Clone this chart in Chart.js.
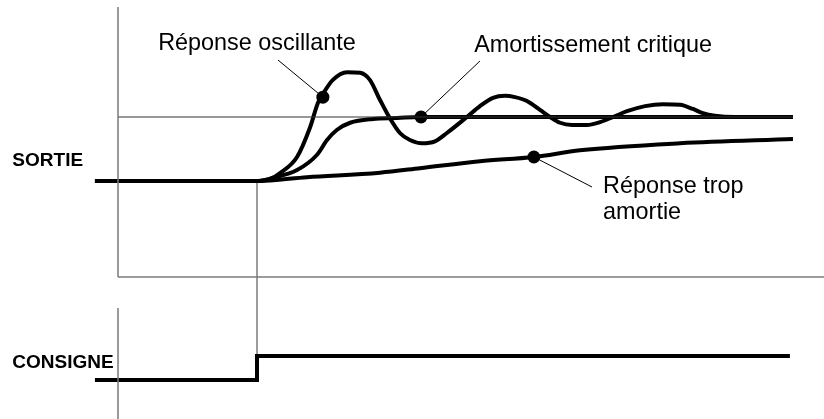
<!DOCTYPE html>
<html>
<head>
<meta charset="utf-8">
<script src="https://cdn.jsdelivr.net/npm/chart.js@4"></script>
<style>
  html, body { margin: 0; padding: 0; background: #fff; }
  #wrap { width: 824px; height: 419px; position: relative; }
</style>
</head>
<body>
<div id="wrap"><canvas id="c"></canvas></div>
<script>
// time (t = 0 at the setpoint step), output normalised so the setpoint = 1
const tBefore = [-5.83, 0];
const oscT = [0, 0.47, 0.83, 1.44, 1.91, 2.19, 2.37, 2.73, 3.24, 3.71, 4.06, 4.42, 4.78, 5.14, 5.5, 5.94, 6.4, 6.83, 7.55, 8.02, 8.49, 8.92, 9.28, 9.71, 10.18, 10.54, 10.9, 11.33, 11.87, 12.34, 12.81, 13.31, 13.96, 14.6, 15.22, 15.68, 16.04, 16.47, 17.19, 19.28];
const oscV = [0, 0.03, 0.125, 0.375, 0.84, 1.22, 1.36, 1.58, 1.70, 1.69, 1.58, 1.27, 0.98, 0.75, 0.64, 0.59, 0.62, 0.75, 1.0, 1.17, 1.30, 1.33, 1.31, 1.25, 1.11, 1.0, 0.91, 0.875, 0.875, 0.92, 1.0, 1.09, 1.17, 1.20, 1.19, 1.125, 1.06, 1.02, 1.0, 1.0];
const critT = [0, 0.58, 1.44, 2.16, 2.52, 2.88, 3.35, 4.17, 5.04, 5.86, 19.28];
const critV = [0, 0.05, 0.17, 0.41, 0.64, 0.80, 0.91, 0.97, 0.985, 1.0, 1.0];
const overT = [0, 1.8, 4.42, 5.86, 8.02, 9.96, 11.62, 15.22, 19.28];
const overV = [0, 0.06, 0.13, 0.2, 0.31, 0.375, 0.48, 0.59, 0.656];
const consT = [-5.83, 0, 0, 19.17];
const consV = [0, 0, 1, 1];
const setpoint = 1;

// callouts: dot on the curve, end of the leader line, text
const calloutDots = [[2.37, 1.31], [5.9, 1.0], [9.96, 0.375]];
const calloutEnds = [[0.755, 1.89], [8.02, 1.875], [12.05, -0.094]];
const calloutTexts = [
    { lines: ['Réponse oscillante'], t: 0, v: 2.05, align: 'center' },
    { lines: ['Amortissement critique'], t: 12.09, v: 2.02, align: 'center' },
    { lines: ['Réponse trop', 'amortie'], t: 12.45, v: -0.19, align: 'left' }
];

const pts = (xs, ys) => xs.map((x, i) => ({ x: x, y: ys[i] }));
const withPre = (xs, ys) => pts(tBefore.concat(xs), [0, 0].concat(ys));

const thick = { borderColor: '#000', borderWidth: 4, pointRadius: 0, fill: false, borderCapStyle: 'butt', borderJoinStyle: 'round' };
const axisLine = { borderColor: '#7a7a7a', borderWidth: 1.5, pointRadius: 0, fill: false, tension: 0 };

const datasets = [
    Object.assign({ data: pts([-5, -5], [2.72, -1.5]) }, axisLine),
    Object.assign({ data: pts([-5, 20.5], [-1.5, -1.5]) }, axisLine),
    Object.assign({ data: pts([-5, -5], [3.0, -1.7]), yAxisID: 'y2' }, axisLine),
    Object.assign({ data: pts([-5, 19.28], [setpoint, setpoint]) }, axisLine, { borderColor: '#333', borderWidth: 1.2 }),
    Object.assign({ data: withPre(overT, overV), cubicInterpolationMode: 'monotone' }, thick),
    Object.assign({ data: withPre(critT, critV), cubicInterpolationMode: 'monotone' }, thick),
    Object.assign({ data: withPre(oscT, oscV), cubicInterpolationMode: 'monotone' }, thick),
    Object.assign({ data: pts(consT, consV), yAxisID: 'y2', tension: 0 }, thick, { borderJoinStyle: 'miter' })
];
calloutDots.forEach((d, i) => {
    datasets.push({ data: pts([calloutEnds[i][0], d[0]], [calloutEnds[i][1], d[1]]), borderColor: '#000', borderWidth: 1, pointRadius: 0, tension: 0 });
});
datasets.push({ data: calloutDots.map(d => ({ x: d[0], y: d[1] })), showLine: false, pointRadius: 6.5, pointBackgroundColor: '#000', pointBorderWidth: 0 });

const textPlugin = {
    id: 'texts',
    beforeDatasetsDraw(chart) {
        // step marker, from the output baseline down to the setpoint step
        const ctx = chart.ctx;
        const x = chart.scales.x.getPixelForValue(0);
        ctx.save();
        ctx.strokeStyle = '#7a7a7a';
        ctx.lineWidth = 1.5;
        ctx.beginPath();
        ctx.moveTo(x, chart.scales.y.getPixelForValue(0));
        ctx.lineTo(x, chart.scales.y2.getPixelForValue(1));
        ctx.stroke();
        ctx.restore();
    },
    afterDatasetsDraw(chart) {
        const ctx = chart.ctx, sx = chart.scales.x, sy = chart.scales.y, sy2 = chart.scales.y2;
        ctx.save();
        ctx.fillStyle = '#000';
        ctx.textBaseline = 'alphabetic';
        ctx.font = '23.4px Arial, "Liberation Sans", sans-serif';
        calloutTexts.forEach(c => {
            ctx.textAlign = c.align;
            c.lines.forEach((s, i) => ctx.fillText(s, sx.getPixelForValue(c.t), sy.getPixelForValue(c.v) + i * 26));
        });
        ctx.font = 'bold 19px Arial, "Liberation Sans", sans-serif';
        ctx.textAlign = 'left';
        ctx.fillText('SORTIE', sx.getPixelForValue(-8.8), sy.getPixelForValue(0.23));
        ctx.fillText('CONSIGNE', sx.getPixelForValue(-8.8), sy2.getPixelForValue(0.5));
        ctx.restore();
    }
};

new Chart(document.getElementById('c').getContext('2d'), {
    type: 'line',
    data: { datasets: datasets },
    options: {
        responsive: true,
        maintainAspectRatio: false,
        animation: false,
        devicePixelRatio: 1,
        layout: { padding: 0, autoPadding: false },
        clip: false,
        plugins: { legend: { display: false }, tooltip: { enabled: false } },
        scales: {
            x: { type: 'linear', display: false, min: -9.245, max: 20.396 },
            y: { type: 'linear', display: false, min: -3.719, max: 2.828 },
            y2: { type: 'linear', display: false, min: -1.625, max: 15.833 }
        }
    },
    plugins: [textPlugin]
});
</script>
</body>
</html>
